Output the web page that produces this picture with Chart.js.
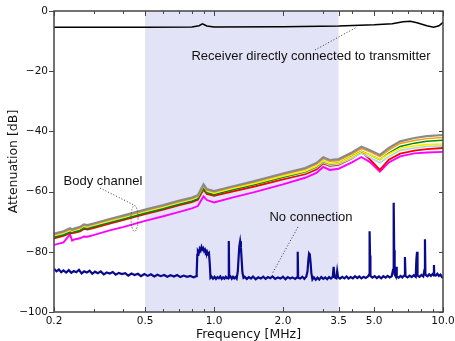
<!DOCTYPE html>
<html>
<head>
<meta charset="utf-8">
<script src="https://cdn.jsdelivr.net/npm/chart.js@4.4.1/dist/chart.umd.min.js"></script>
<style>
  html, body { margin: 0; padding: 0; background: #fff; }
  canvas { display: block; }
</style>
</head>
<body>
<canvas id="grafico" width="455" height="341"></canvas>
<script>
// Eixos
const xTicks = [0.2, 0.5, 1, 2, 3.5, 5, 10];
const xMinorTicks = [0.3, 0.4, 0.6, 0.7, 0.8, 0.9, 3, 4, 6, 7, 8, 9];
const yTicks = [0, -20, -40, -60, -80, -100];
const faixa = [0.5, 3.5]; // faixa sombreada (MHz)

// Receiver directly connected to transmitter
const diretoFreq = [0.2, 0.5, 0.8, 0.86, 0.89, 0.93, 1.0, 2.0, 3.5, 5.0, 6.0, 6.7, 7.2, 7.7, 8.5, 9.1, 9.6, 10.0];
const diretoAtt = [-5.4, -5.4, -5.3, -4.9, -4.3, -5.0, -5.3, -5.2, -5.0, -4.6, -4.2, -3.6, -3.4, -3.9, -4.9, -5.4, -4.9, -3.8];

// Body channel (7 curvas)
const corpoFreq = [0.2, 0.22, 0.235, 0.24, 0.245, 0.26, 0.27, 0.28, 0.3, 0.35, 0.4, 0.5, 0.6, 0.7, 0.8, 0.85, 0.88, 0.9, 0.93, 1.0, 1.2, 1.5, 2.0, 2.5, 2.8, 3.0, 3.2, 3.5, 4.0, 4.4, 4.8, 5.3, 5.8, 6.5, 7.5, 8.5, 10.0];
const corpoCinza = [-74.0, -73.2, -72.2, -72.6, -72.3, -71.7, -70.9, -71.1, -70.5, -69.1, -68.0, -66.0, -64.5, -63.1, -62.0, -61.2, -59.0, -57.6, -59.2, -59.8, -58.3, -56.5, -54.0, -52.2, -50.5, -48.6, -49.5, -49.2, -47.0, -45.1, -46.3, -47.8, -45.5, -43.3, -42.2, -41.6, -41.2];
const corpoLaranja = [-74.3, -73.5, -72.5, -72.9, -72.6, -72.0, -71.2, -71.4, -70.8, -69.4, -68.3, -66.3, -64.8, -63.4, -62.3, -61.5, -59.2, -57.8, -59.4, -60.1, -58.6, -56.8, -54.3, -52.5, -50.9, -49.0, -49.9, -49.7, -47.5, -45.7, -46.8, -48.4, -46.2, -44.0, -43.0, -42.4, -42.0];
const corpoAmarelo = [-74.5, -73.7, -72.8, -73.1, -72.8, -72.2, -71.4, -71.6, -71.0, -69.6, -68.5, -66.5, -65.0, -63.6, -62.5, -61.7, -59.5, -58.1, -59.7, -60.4, -59.0, -57.3, -54.9, -53.2, -51.6, -49.8, -50.7, -50.5, -48.4, -46.7, -47.8, -49.3, -47.5, -45.6, -44.8, -44.4, -44.2];
const corpoVerde = [-75.2, -74.4, -73.5, -73.6, -73.4, -72.9, -72.1, -72.3, -71.7, -70.3, -69.2, -67.2, -65.7, -64.3, -63.2, -62.4, -60.2, -58.8, -60.4, -61.0, -59.5, -57.7, -55.2, -53.4, -51.8, -49.9, -50.8, -50.5, -48.3, -46.6, -47.8, -49.4, -47.2, -45.0, -43.9, -43.3, -42.9];
const corpoAzul = [-74.9, -74.1, -73.2, -73.4, -73.1, -72.6, -71.8, -72.0, -71.4, -70.0, -68.9, -66.9, -65.4, -64.0, -62.9, -62.1, -59.9, -58.5, -60.1, -60.8, -59.4, -57.7, -55.4, -53.7, -52.1, -50.3, -51.2, -50.9, -48.9, -47.3, -48.7, -50.4, -48.4, -46.3, -45.5, -45.0, -44.8];
const corpoVermelho = [-75.5, -74.7, -73.8, -73.8, -73.7, -73.2, -72.4, -72.6, -72.0, -70.6, -69.5, -67.5, -66.0, -64.6, -63.5, -62.7, -60.6, -59.3, -60.8, -61.4, -60.0, -58.3, -55.9, -54.2, -52.6, -50.6, -51.4, -51.1, -49.0, -46.8, -49.3, -52.8, -49.4, -47.4, -46.4, -45.9, -45.5];
const corpoMagenta = [-77.7, -76.9, -74.2, -76.3, -75.9, -75.5, -74.9, -75.0, -74.4, -72.9, -71.8, -69.7, -68.2, -66.8, -65.6, -64.8, -62.8, -61.6, -62.8, -63.6, -62.0, -60.2, -57.6, -55.4, -53.8, -51.8, -52.8, -52.4, -50.3, -48.5, -50.2, -53.4, -50.3, -48.3, -47.3, -47.0, -46.8];

// No connection: [MHz, dB]
const semConexao = [
  [0.200, -85.6], [0.205, -86.5], [0.210, -85.9], [0.215, -86.8], [0.220, -86.2], [0.226, -86.9], [0.232, -86.1],
  [0.238, -87.0], [0.244, -86.4], [0.250, -86.8], [0.257, -86.0], [0.264, -87.2], [0.271, -86.5], [0.278, -86.9],
  [0.286, -86.3], [0.294, -87.3], [0.302, -86.6], [0.311, -87.1], [0.320, -86.5], [0.330, -87.5], [0.340, -86.9],
  [0.350, -87.2], [0.361, -86.7], [0.372, -87.6], [0.384, -87.0], [0.396, -87.4], [0.409, -87.1], [0.422, -87.9],
  [0.436, -87.2], [0.450, -87.7], [0.465, -87.3], [0.480, -88.1], [0.496, -87.4], [0.513, -88.0], [0.530, -87.5],
  [0.548, -88.2], [0.566, -87.6], [0.585, -88.1], [0.605, -87.7], [0.625, -88.3], [0.646, -87.8], [0.668, -88.2],
  [0.690, -87.7], [0.713, -88.4], [0.737, -87.9], [0.762, -88.3], [0.788, -88.0], [0.815, -88.5], [0.835, -88.1],
  [0.840, -87.0], [0.845, -81.0], [0.850, -79.8], [0.858, -80.4], [0.866, -79.0], [0.874, -79.6], [0.882, -78.4],
  [0.890, -79.2], [0.898, -78.8], [0.906, -79.8], [0.914, -79.3], [0.922, -80.2], [0.930, -79.8], [0.940, -80.8],
  [0.950, -80.4], [0.958, -84.0], [0.965, -88.6],
  [0.975, -88.2], [0.990, -88.9], [1.005, -88.3], [1.020, -89.0], [1.035, -88.4], [1.050, -88.8], [1.065, -88.2],
  [1.080, -89.0], [1.095, -88.5], [1.110, -88.9], [1.125, -88.3], [1.140, -88.8], [1.155, -88.4], [1.160, -76.4],
  [1.165, -88.6], [1.180, -88.2], [1.195, -88.9], [1.210, -88.3], [1.225, -88.8], [1.240, -88.4], [1.255, -88.9],
  [1.270, -86.5], [1.280, -82.0], [1.290, -78.0], [1.300, -76.5], [1.310, -78.5], [1.320, -82.5], [1.330, -86.8],
  [1.345, -88.6],
  [1.36, -88.3], [1.39, -89.0], [1.42, -88.4], [1.45, -88.9], [1.48, -88.2], [1.52, -89.1], [1.56, -88.5],
  [1.60, -88.9], [1.64, -88.3], [1.68, -89.0], [1.72, -88.4], [1.76, -88.8], [1.80, -88.2], [1.85, -89.0],
  [1.90, -88.5], [1.95, -88.9], [2.00, -88.3], [2.05, -89.1], [2.10, -88.4], [2.15, -88.9], [2.20, -88.5],
  [2.26, -89.0], [2.31, -88.4], [2.32, -80.0], [2.33, -88.6], [2.38, -88.9], [2.43, -88.3], [2.48, -89.0],
  [2.53, -88.2], [2.56, -86.5], [2.58, -83.0], [2.60, -80.6], [2.62, -81.0], [2.64, -83.5], [2.66, -87.0],
  [2.69, -89.2],
  [2.73, -88.5], [2.78, -89.3], [2.83, -88.6], [2.88, -89.2], [2.94, -88.4], [3.00, -89.0], [3.06, -88.5],
  [3.12, -89.1], [3.18, -88.4], [3.24, -88.9], [3.30, -88.3], [3.33, -85.0], [3.36, -88.5], [3.42, -88.8],
  [3.45, -86.4], [3.48, -88.4], [3.55, -88.9], [3.63, -88.3], [3.71, -88.8], [3.79, -88.2], [3.87, -88.9],
  [3.95, -88.4], [4.04, -88.8], [4.13, -88.1], [4.22, -88.7], [4.31, -88.2], [4.40, -88.8], [4.50, -88.3],
  [4.60, -88.7], [4.70, -88.2], [4.76, -87.5], [4.77, -81.0], [4.79, -73.2], [4.80, -81.2], [4.82, -88.0],
  [4.92, -88.6], [5.03, -88.1], [5.14, -88.7], [5.25, -88.2], [5.37, -88.8], [5.49, -88.1], [5.61, -88.6],
  [5.73, -88.0], [5.85, -88.5], [5.97, -88.1], [6.05, -86.0], [6.08, -79.0], [6.10, -63.7], [6.12, -79.5],
  [6.15, -87.5], [6.22, -88.2], [6.25, -85.0], [6.28, -88.3], [6.40, -88.6], [6.52, -88.0], [6.64, -88.5],
  [6.78, -87.8], [6.82, -81.7], [6.86, -88.1], [7.00, -88.5], [7.15, -87.9], [7.30, -88.4], [7.45, -87.8],
  [7.60, -88.3], [7.65, -82.7], [7.70, -80.0], [7.74, -87.9], [7.90, -88.3], [8.05, -87.7], [8.20, -88.2],
  [8.30, -86.0], [8.34, -75.8], [8.38, -87.6], [8.55, -88.1], [8.70, -87.5], [8.85, -88.0], [9.00, -87.4],
  [9.10, -87.8], [9.13, -84.4], [9.16, -87.6], [9.30, -87.9], [9.45, -87.3], [9.60, -88.0], [9.75, -87.6],
  [9.90, -88.4], [10.0, -88.6]
];

function pontos(freqs, valores) {
    return freqs.map((f, i) => ({ x: f, y: valores[i] }));
}

function serie(dados, cor, largura) {
    return {
        data: dados,
        borderColor: cor,
        borderWidth: largura,
        pointRadius: 0,
        fill: false,
        tension: 0
    };
}

// Sombreado, moldura, ticks e anotações
const molduraPlugin = {
    id: 'moldura',
    beforeDatasetsDraw(chart) {
        const { ctx, chartArea: a, scales: { x } } = chart;
        const x0 = x.getPixelForValue(faixa[0]);
        const x1 = x.getPixelForValue(faixa[1]);
        ctx.save();
        ctx.fillStyle = '#e3e3f7';
        ctx.fillRect(x0, a.top, x1 - x0, a.bottom - a.top);
        ctx.restore();
    },
    afterDatasetsDraw(chart) {
        const { ctx, chartArea: a, scales: { x, y } } = chart;
        ctx.save();
        ctx.strokeStyle = '#444';
        ctx.lineWidth = 1.5;
        ctx.strokeRect(a.left, a.top, a.right - a.left, a.bottom - a.top);

        ctx.lineWidth = 1;
        ctx.beginPath();
        xTicks.forEach(v => {
            const px = Math.round(x.getPixelForValue(v)) + 0.5;
            ctx.moveTo(px, a.bottom); ctx.lineTo(px, a.bottom - 5);
            ctx.moveTo(px, a.top); ctx.lineTo(px, a.top + 5);
        });
        xMinorTicks.forEach(v => {
            const px = Math.round(x.getPixelForValue(v)) + 0.5;
            ctx.moveTo(px, a.bottom); ctx.lineTo(px, a.bottom - 3);
            ctx.moveTo(px, a.top); ctx.lineTo(px, a.top + 3);
        });
        yTicks.forEach(v => {
            const py = Math.round(y.getPixelForValue(v)) + 0.5;
            ctx.moveTo(a.left, py); ctx.lineTo(a.left - 5, py);
            ctx.moveTo(a.right, py); ctx.lineTo(a.right - 4, py);
        });
        ctx.stroke();

        // anotações
        ctx.fillStyle = '#111';
        ctx.font = '13px "Liberation Sans", Arial, sans-serif';
        ctx.textAlign = 'center';
        ctx.textBaseline = 'middle';
        ctx.fillText('Receiver directly connected to transmitter', 311, 56);
        ctx.fillText('Body channel', 103, 181);
        ctx.fillText('No connection', 311, 217);

        ctx.strokeStyle = '#333';
        ctx.lineWidth = 1;
        ctx.setLineDash([1, 2]);
        ctx.beginPath();
        ctx.moveTo(315, 50); ctx.lineTo(357, 27);
        ctx.moveTo(100, 188); ctx.lineTo(134, 205);
        ctx.moveTo(298, 227); ctx.lineTo(272, 274);
        ctx.stroke();
        ctx.beginPath();
        ctx.ellipse(134.5, 218.5, 3.5, 13, 0, 0, Math.PI * 2);
        ctx.stroke();
        ctx.restore();
    }
};

const ctx = document.getElementById('grafico').getContext('2d');
new Chart(ctx, {
    type: 'line',
    data: {
        datasets: [
            serie(pontos(diretoFreq, diretoAtt), '#000000', 1.5),
            serie(pontos(corpoFreq, corpoCinza), '#8a8a8a', 2.2),
            serie(pontos(corpoFreq, corpoLaranja), '#ff9a00', 1.5),
            serie(pontos(corpoFreq, corpoAmarelo), '#ffee00', 1.6),
            serie(pontos(corpoFreq, corpoVerde), '#008a00', 1.5),
            serie(pontos(corpoFreq, corpoAzul), '#a9d8e2', 1.6),
            serie(pontos(corpoFreq, corpoVermelho), '#ff0000', 1.9),
            serie(pontos(corpoFreq, corpoMagenta), '#ff00ff', 1.9),
            serie(semConexao.map(p => ({ x: p[0], y: p[1] })), '#0a0a8c', 2.2)
        ]
    },
    options: {
        responsive: false,
        animation: false,
        devicePixelRatio: 1,
        layout: { padding: { top: 11, right: 12, bottom: 0, left: 0 } },
        plugins: {
            legend: { display: false },
            title: { display: false },
            tooltip: { enabled: false }
        },
        scales: {
            x: {
                type: 'logarithmic',
                min: 0.2,
                max: 10,
                afterBuildTicks: axis => { axis.ticks = xTicks.map(v => ({ value: v })); },
                afterFit: scale => { scale.height = 29; scale.paddingLeft = 0; scale.paddingRight = 0; },
                grid: { display: false, drawTicks: false, tickLength: 0 },
                border: { display: false },
                ticks: {
                    autoSkip: false,
                    maxRotation: 0,
                    padding: 3,
                    color: '#111',
                    font: { family: '"DejaVu Sans"', size: 10.5 },
                    callback: v => Number(v).toFixed(1)
                },
                title: {
                    display: true,
                    text: 'Frequency [MHz]',
                    color: '#111',
                    padding: { top: 0, bottom: -1 },
                    font: { family: '"DejaVu Sans"', size: 12.5 }
                }
            },
            y: {
                min: -100,
                max: 0,
                afterBuildTicks: axis => { axis.ticks = yTicks.map(v => ({ value: v })); },
                afterFit: scale => { scale.width = 54; scale.paddingTop = 0; scale.paddingBottom = 0; },
                grid: { display: false, drawTicks: false, tickLength: 0 },
                border: { display: false },
                ticks: {
                    padding: 6,
                    color: '#111',
                    font: { family: '"DejaVu Sans"', size: 10.5 },
                    callback: v => String(v).replace('-', '\u2212')
                },
                title: {
                    display: true,
                    text: 'Attenuation [dB]',
                    color: '#111',
                    padding: { top: 6, bottom: 0 },
                    font: { family: '"DejaVu Sans"', size: 12.5 }
                }
            }
        }
    },
    plugins: [molduraPlugin]
});
</script>
</body>
</html>
